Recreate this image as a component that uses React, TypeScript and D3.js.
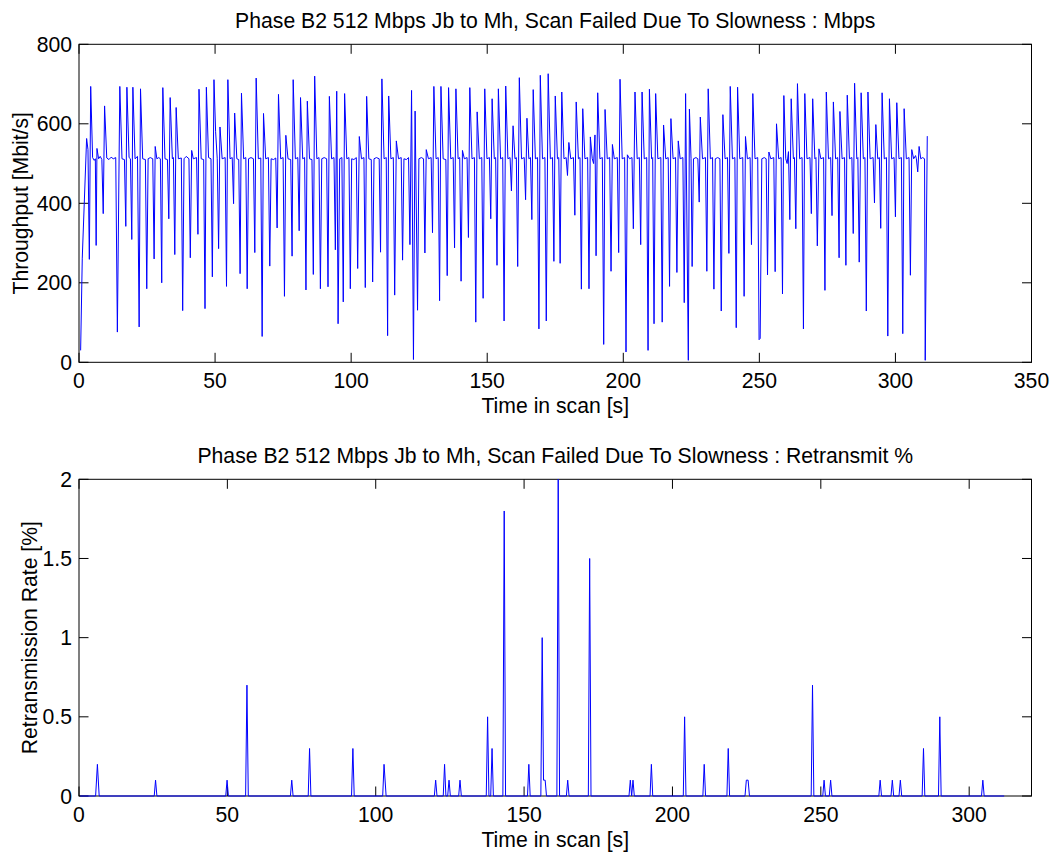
import React from 'react';
import * as d3 from 'd3';

const titleTop = 'Phase B2 512 Mbps Jb to Mh, Scan Failed Due To Slowness : Mbps';
const titleBottom = 'Phase B2 512 Mbps Jb to Mh, Scan Failed Due To Slowness : Retransmit %';
const xLabel = 'Time in scan [s]';
const yLabelTop = 'Throughput [Mbit/s]';
const yLabelBottom = 'Retransmission Rate [%]';

const topXTicks = [0, 50, 100, 150, 200, 250, 300, 350];
const topYTicks = [0, 200, 400, 600, 800];
const bottomXTicks = [0, 50, 100, 150, 200, 250, 300];
const bottomYTicks = [0, 0.5, 1, 1.5, 2];
const bottomYTickLabels = ['0', '0.5', '1', '1.5', '2'];

// [time (s), throughput (Mbit/s)]
const throughput: [number, number][] = [
  [0.6,30],[1.2,262],[2.8,563],[3.3,535],[3.8,259],[4.3,694],[5.0,515],[5.6,508],[6.0,512],[6.3,294],[6.6,538],[7.2,512],[7.8,518],[8.4,510],[8.9,374],[9.4,645],[10.2,514],[11,510],[11.8,516],[12.6,512],[13.5,515],[14.1,76],[15.0,694],[15.8,512],[16.7,510],[17.2,342],[17.6,692],[18.4,515],[18.9,512],[19.4,309],[19.8,692],[20.6,512],[21.5,518],[22.1,89],[22.6,688],[23.4,512],[24.4,510],[24.9,185],[25.4,512],[26.2,515],[27.1,512],[27.6,260],[28.0,543],[28.6,512],[29.3,515],[29.9,512],[30.4,200],[30.8,691],[31.6,512],[32.5,510],[33.0,361],[33.5,666],[34.3,512],[34.7,515],[35.2,271],[35.7,641],[36.5,512],[37.6,514],[38.1,130],[38.6,512],[39.4,518],[40.4,512],[40.9,263],[41.4,533],[42.0,512],[43.2,515],[43.7,322],[44.1,687],[44.9,512],[45.8,510],[46.3,135],[46.8,692],[47.6,515],[48.5,512],[49.0,215],[49.6,711],[50.2,580],[50.8,512],[51.3,286],[51.8,592],[52.6,512],[53.7,515],[54.2,191],[54.7,711],[55.5,512],[56.3,515],[56.8,399],[57.2,627],[58.0,512],[58.7,510],[59.2,223],[59.7,677],[60.5,512],[61.3,515],[61.8,185],[62.3,512],[63.2,515],[64.1,512],[64.6,276],[65.1,715],[65.9,512],[66.8,514],[67.3,65],[67.8,626],[68.6,512],[69.6,515],[70.1,242],[70.6,512],[71.5,510],[72.3,514],[72.8,338],[73.3,674],[74.1,512],[75.0,515],[75.5,166],[76.0,571],[76.8,512],[77.8,510],[78.3,267],[78.7,711],[79.5,512],[80.4,515],[80.9,331],[81.4,666],[82.2,512],[82.9,515],[83.4,182],[83.9,657],[84.7,512],[85.6,510],[86.1,221],[86.6,720],[87.4,512],[88.2,515],[88.7,185],[89.2,512],[90.1,515],[91.0,512],[91.5,190],[92.0,669],[92.8,512],[93.7,515],[94.2,283],[94.7,682],[95.2,97],[95.8,512],[96.6,515],[97.1,152],[97.6,676],[98.4,512],[99.2,515],[99.7,185],[100.2,512],[101.0,510],[101.9,515],[102.4,236],[103.0,568],[103.8,512],[104.7,515],[105.2,188],[105.7,669],[106.5,512],[107.4,510],[107.9,202],[108.4,512],[109.3,515],[110.3,512],[110.8,277],[111.3,713],[112.1,512],[112.9,515],[113.4,67],[113.8,670],[114.6,512],[115.5,515],[116.0,169],[116.6,557],[117.4,512],[118.4,515],[118.9,257],[119.4,512],[120.3,510],[121.1,515],[121.6,296],[122.2,684],[122.9,7],[123.5,632],[124.4,131],[124.9,512],[125.8,515],[126.6,512],[127.1,275],[127.6,535],[128.4,512],[129.4,515],[129.9,326],[130.4,694],[131.2,512],[132.0,515],[132.5,155],[133.0,694],[133.8,512],[134.8,510],[135.3,218],[135.8,691],[136.6,512],[137.5,515],[138.0,288],[138.5,688],[139.3,512],[139.9,515],[140.4,204],[140.9,533],[141.6,512],[142.6,515],[143.1,314],[143.6,691],[144.4,512],[145.3,515],[145.8,101],[146.3,630],[147.1,512],[148.0,515],[148.5,161],[149.1,688],[149.9,512],[150.8,515],[151.3,361],[151.8,663],[152.6,512],[153.1,515],[153.6,244],[154.1,688],[154.9,512],[155.7,515],[156.2,104],[156.8,695],[157.6,512],[158.4,515],[158.9,431],[159.5,595],[160.2,512],[160.7,515],[161.2,241],[161.8,716],[162.6,512],[163.6,515],[164.1,409],[164.6,614],[165.3,512],[165.9,515],[166.4,359],[166.9,686],[167.7,512],[168.5,515],[169.0,84],[169.5,722],[170.3,512],[171.2,515],[171.7,104],[172.4,726],[173.2,512],[174.0,515],[174.5,254],[175.0,670],[175.8,512],[176.3,515],[176.8,249],[177.4,680],[178.2,512],[179.0,515],[179.5,470],[180.0,553],[180.7,512],[181.7,515],[182.2,370],[182.7,655],[183.5,512],[184.1,515],[184.6,184],[185.1,638],[185.9,512],[186.9,515],[187.4,185],[187.9,567],[188.6,512],[189.1,500],[189.6,572],[190.0,268],[190.6,678],[191.4,512],[192.3,515],[192.8,45],[193.3,636],[194.1,512],[195.0,515],[195.5,229],[196.0,548],[196.7,512],[197.8,515],[198.3,276],[198.8,712],[199.6,512],[200.5,515],[201.0,26],[201.5,522],[202.3,512],[203.2,515],[203.7,336],[204.3,680],[205.1,512],[205.9,515],[206.4,296],[206.9,680],[207.7,512],[208.6,515],[209.1,30],[209.6,687],[210.4,512],[210.8,515],[211.3,97],[211.9,676],[212.7,512],[213.8,515],[214.3,101],[214.8,597],[215.6,512],[216.5,515],[217.0,191],[217.5,613],[218.3,512],[219.2,515],[219.7,226],[220.2,557],[220.9,512],[221.9,515],[222.4,150],[222.9,676],[223.9,5],[224.3,637],[224.9,512],[225.3,241],[225.8,512],[226.7,515],[227.4,512],[227.9,403],[228.3,617],[229.1,512],[230.2,515],[230.7,229],[231.2,688],[232.0,512],[232.8,515],[233.3,184],[233.8,512],[234.7,515],[235.5,512],[236.0,129],[236.6,623],[237.4,512],[238.3,515],[238.8,274],[239.3,694],[240.1,512],[241.0,515],[241.5,87],[242.0,692],[242.8,512],[243.9,515],[244.4,166],[244.9,568],[245.6,512],[246.6,515],[247.1,296],[247.6,676],[248.4,512],[249.4,515],[249.9,57],[250.3,60],[250.9,512],[251.8,515],[252.5,512],[253.0,220],[253.5,529],[254.2,512],[255.3,515],[255.8,228],[256.3,600],[257.1,512],[258.0,515],[258.5,172],[259.0,671],[259.7,512],[260.2,500],[260.7,530],[261.2,359],[261.7,663],[262.5,512],[262.9,515],[263.4,336],[264.0,701],[264.8,512],[265.7,515],[266.2,84],[266.7,676],[267.5,512],[268.6,515],[269.1,374],[269.6,663],[270.4,512],[270.8,515],[271.3,293],[271.9,537],[272.6,512],[273.6,515],[274.1,181],[274.6,680],[275.4,512],[276.2,515],[276.7,369],[277.2,655],[278.0,512],[278.8,515],[279.3,263],[279.6,631],[280.4,512],[281.3,515],[281.8,244],[282.3,672],[283.1,512],[284.0,515],[284.5,324],[285.0,702],[285.8,512],[286.2,515],[286.7,252],[287.4,678],[288.2,512],[288.8,515],[289.3,129],[289.9,680],[290.7,512],[291.8,515],[292.3,401],[292.8,598],[293.5,512],[294.1,515],[294.6,337],[295.1,678],[295.9,512],[296.7,515],[297.2,66],[297.8,663],[298.6,512],[299.5,515],[300.0,366],[300.5,653],[301.3,512],[302.2,515],[302.7,72],[303.2,638],[304.0,512],[305.0,515],[305.5,219],[306.0,535],[306.7,512],[307.4,520],[307.7,512],[308.2,479],[308.7,543],[309.3,512],[310.0,515],[310.7,512],[310.95,5],[311.7,569]
];

// [time (s), retransmission rate (%)]
const retransmit: [number, number][] = [
  [0.4,0],[5.6,0],[6.2,0.2],[6.8,0],[25.35,0],[25.8,0.1],[26.25,0],[49.45,0],[49.9,0.1],[50.35,0],[56.15,0],[56.6,0.7],[57.05,0],[71.25,0],[71.7,0.1],[72.15,0],[77.25,0],[77.7,0.3],[78.15,0],[91.85,0],[92.3,0.3],[92.75,0],[102.35,0],[102.8,0.2],[103.5,0],[119.75,0],[120.2,0.1],[120.65,0],[122.75,0],[123.2,0.2],[123.65,0],[124.25,0],[124.7,0.1],[125.15,0],[127.95,0],[128.4,0.1],[128.85,0],[137.25,0],[137.7,0.5],[138.15,0],[138.75,0],[139.2,0.3],[139.65,0],[142.85,0],[143.3,1.8],[143.75,0],[151.15,0],[151.6,0.2],[152.05,0],[155.65,0],[156.1,1.0],[156.55,0.1],[157.1,0.1],[157.55,0],[161.05,0],[161.5,2.0],[161.95,0],[164.25,0],[164.7,0.1],[165.15,0],[171.65,0],[172.1,1.5],[172.55,0],[185.35,0],[185.8,0.1],[186.25,0],[186.7,0.1],[187.15,0],[192.45,0],[192.9,0.2],[193.35,0],[203.65,0],[204.1,0.5],[204.55,0],[210.25,0],[210.7,0.2],[211.15,0],[218.35,0],[218.8,0.3],[219.25,0],[224.45,0],[224.9,0.1],[225.5,0.1],[225.95,0],[246.75,0],[247.2,0.7],[247.65,0],[250.65,0],[251.1,0.1],[251.55,0],[252.85,0],[253.3,0.1],[253.75,0],[269.55,0],[270.0,0.1],[270.45,0],[273.65,0],[274.1,0.1],[274.55,0],[276.35,0],[276.8,0.1],[277.25,0],[284.15,0],[284.6,0.3],[285.05,0],[289.65,0],[290.1,0.5],[290.55,0],[304.15,0],[304.6,0.1],[305.05,0],[311.8,0]
];

const FONT = '"Liberation Sans", Arial, Helvetica, sans-serif';
const FS = 21.2;
const TICK = 9.5;

type PanelProps = {
  data: [number, number][];
  xDomain: [number, number];
  yDomain: [number, number];
  xTicks: number[];
  yTicks: number[];
  yTickLabels?: string[];
  top: number;
  bottom: number;
  title: string;
  yLabel: string;
  yLabelX: number;
};

const LEFT = 79;
const RIGHT = 1031.5;

function Panel(p: PanelProps) {
  const x = d3.scaleLinear().domain(p.xDomain).range([LEFT, RIGHT]);
  const y = d3.scaleLinear().domain(p.yDomain).range([p.bottom, p.top]);
  const line = d3
    .line<[number, number]>()
    .x((d) => x(d[0]))
    .y((d) => y(d[1]));
  const cx = (LEFT + RIGHT) / 2;
  const cy = (p.top + p.bottom) / 2;
  return (
    <g fontFamily={FONT} fontSize={FS} fill="#000">
      <rect x={LEFT} y={p.top} width={RIGHT - LEFT} height={p.bottom - p.top} fill="#fff" />
      <text x={cx} y={p.top - 16} textAnchor="middle">{p.title}</text>
      {p.xTicks.map((t) => (
        <g key={'x' + t}>
          <line x1={x(t)} x2={x(t)} y1={p.bottom} y2={p.bottom - TICK} stroke="#000" strokeWidth={1} />
          <line x1={x(t)} x2={x(t)} y1={p.top} y2={p.top + TICK} stroke="#000" strokeWidth={1} />
          <text x={x(t)} y={p.bottom + 26} textAnchor="middle">{String(t)}</text>
        </g>
      ))}
      {p.yTicks.map((t, i) => (
        <g key={'y' + t}>
          <line x1={LEFT} x2={LEFT + TICK} y1={y(t)} y2={y(t)} stroke="#000" strokeWidth={1} />
          <line x1={RIGHT} x2={RIGHT - TICK} y1={y(t)} y2={y(t)} stroke="#000" strokeWidth={1} />
          <text x={LEFT - 7} y={y(t) + 7.5} textAnchor="end">
            {p.yTickLabels ? p.yTickLabels[i] : String(t)}
          </text>
        </g>
      ))}
      <rect x={LEFT} y={p.top} width={RIGHT - LEFT} height={p.bottom - p.top} fill="none" stroke="#000" strokeWidth={1} />
      <path d={line(p.data) || ''} fill="none" stroke="#0000ff" strokeWidth={1} />
      <text x={cx} y={p.bottom + 51} textAnchor="middle">{xLabel}</text>
      <text transform={`translate(${p.yLabelX},${cy}) rotate(-90)`} textAnchor="middle">{p.yLabel}</text>
    </g>
  );
}

export default function App() {
  return (
    <svg
      width={1056}
      height={854}
      style={{ position: 'absolute', left: 0, top: 0, background: '#fff' }}
    >
      <rect x={0} y={0} width={1056} height={854} fill="#fff" />
      <Panel
        data={throughput}
        xDomain={[0, 350]}
        yDomain={[0, 800]}
        xTicks={topXTicks}
        yTicks={topYTicks}
        top={44.3}
        bottom={362.3}
        title={titleTop}
        yLabel={yLabelTop}
        yLabelX={28}
      />
      <Panel
        data={retransmit}
        xDomain={[0, 321]}
        yDomain={[0, 2]}
        xTicks={bottomXTicks}
        yTicks={bottomYTicks}
        yTickLabels={bottomYTickLabels}
        top={479.3}
        bottom={796}
        title={titleBottom}
        yLabel={yLabelBottom}
        yLabelX={37}
      />
    </svg>
  );
}
